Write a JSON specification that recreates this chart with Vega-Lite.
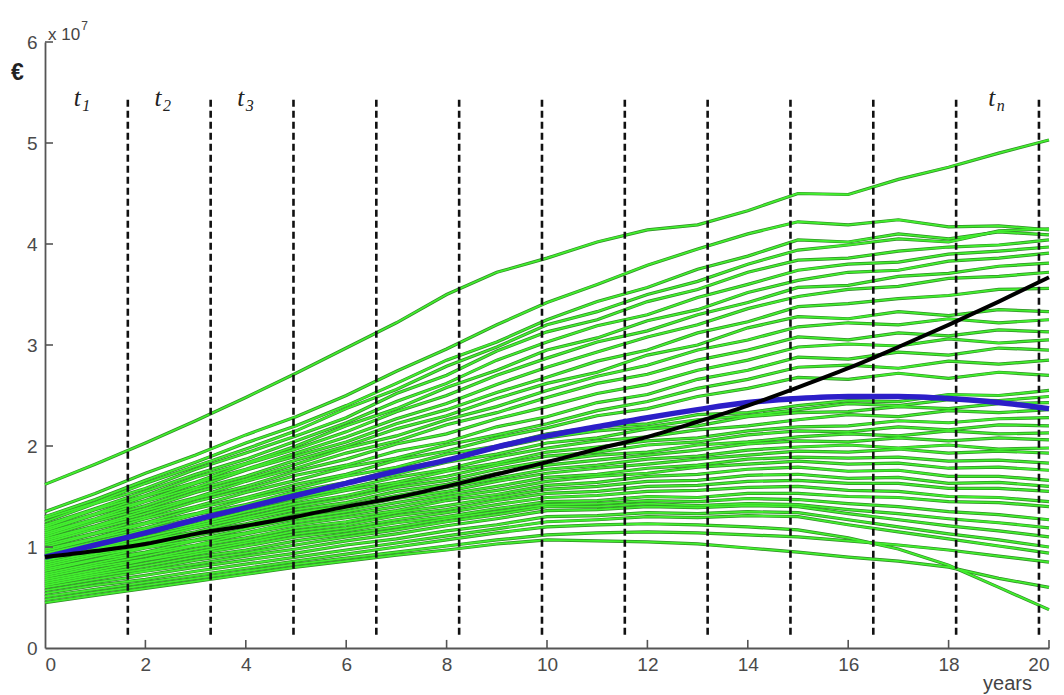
{
"$schema":"https://vega.github.io/schema/vega-lite/v6.json",
"width":1004,"height":606,
"autosize":{"type":"none"},
"padding":{"left":45,"top":42,"right":15,"bottom":47},
"background":"white",
"config":{"view":{"stroke":null},"axis":{"grid":false,"ticks":false,"labelFont":"Liberation Sans","labelFontSize":19,"labelColor":"#4a4a4a","domainColor":"#555555","domainWidth":1.8,"titleFont":"Liberation Sans","titleColor":"#444444","titleFontWeight":"normal"}},
"datasets":{
"g":[
{"p":1,"x":0,"y":1.62},{"p":1,"x":1,"y":1.82},{"p":1,"x":2,"y":2.03},{"p":1,"x":3,"y":2.25},{"p":1,"x":4,"y":2.48},{"p":1,"x":5,"y":2.72},{"p":1,"x":6,"y":2.97},{"p":1,"x":7,"y":3.22},{"p":1,"x":8,"y":3.50},{"p":1,"x":9,"y":3.72},{"p":1,"x":10,"y":3.86},{"p":1,"x":11,"y":4.02},{"p":1,"x":12,"y":4.14},{"p":1,"x":13,"y":4.19},{"p":1,"x":14,"y":4.33},{"p":1,"x":15,"y":4.50},{"p":1,"x":16,"y":4.49},{"p":1,"x":17,"y":4.64},{"p":1,"x":18,"y":4.76},{"p":1,"x":19,"y":4.90},{"p":1,"x":20,"y":5.03},
{"p":2,"x":0,"y":1.35},{"p":2,"x":1,"y":1.53},{"p":2,"x":2,"y":1.73},{"p":2,"x":3,"y":1.91},{"p":2,"x":4,"y":2.11},{"p":2,"x":5,"y":2.29},{"p":2,"x":6,"y":2.50},{"p":2,"x":7,"y":2.74},{"p":2,"x":8,"y":2.96},{"p":2,"x":9,"y":3.20},{"p":2,"x":10,"y":3.42},{"p":2,"x":11,"y":3.60},{"p":2,"x":12,"y":3.79},{"p":2,"x":13,"y":3.95},{"p":2,"x":14,"y":4.10},{"p":2,"x":15,"y":4.22},{"p":2,"x":16,"y":4.19},{"p":2,"x":17,"y":4.24},{"p":2,"x":18,"y":4.17},{"p":2,"x":19,"y":4.18},{"p":2,"x":20,"y":4.14},
{"p":3,"x":0,"y":1.30},{"p":3,"x":1,"y":1.47},{"p":3,"x":2,"y":1.66},{"p":3,"x":3,"y":1.84},{"p":3,"x":4,"y":2.03},{"p":3,"x":5,"y":2.20},{"p":3,"x":6,"y":2.40},{"p":3,"x":7,"y":2.62},{"p":3,"x":8,"y":2.85},{"p":3,"x":9,"y":3.03},{"p":3,"x":10,"y":3.25},{"p":3,"x":11,"y":3.43},{"p":3,"x":12,"y":3.57},{"p":3,"x":13,"y":3.75},{"p":3,"x":14,"y":3.88},{"p":3,"x":15,"y":4.04},{"p":3,"x":16,"y":4.02},{"p":3,"x":17,"y":4.10},{"p":3,"x":18,"y":4.05},{"p":3,"x":19,"y":4.12},{"p":3,"x":20,"y":4.09},
{"p":4,"x":0,"y":1.28},{"p":4,"x":1,"y":1.44},{"p":4,"x":2,"y":1.63},{"p":4,"x":3,"y":1.80},{"p":4,"x":4,"y":1.97},{"p":4,"x":5,"y":2.15},{"p":4,"x":6,"y":2.37},{"p":4,"x":7,"y":2.56},{"p":4,"x":8,"y":2.79},{"p":4,"x":9,"y":2.98},{"p":4,"x":10,"y":3.20},{"p":4,"x":11,"y":3.33},{"p":4,"x":12,"y":3.50},{"p":4,"x":13,"y":3.63},{"p":4,"x":14,"y":3.80},{"p":4,"x":15,"y":3.94},{"p":4,"x":16,"y":3.99},{"p":4,"x":17,"y":4.05},{"p":4,"x":18,"y":4.02},{"p":4,"x":19,"y":4.13},{"p":4,"x":20,"y":4.15},
{"p":5,"x":0,"y":1.25},{"p":5,"x":1,"y":1.43},{"p":5,"x":2,"y":1.58},{"p":5,"x":3,"y":1.77},{"p":5,"x":4,"y":1.93},{"p":5,"x":5,"y":2.10},{"p":5,"x":6,"y":2.28},{"p":5,"x":7,"y":2.52},{"p":5,"x":8,"y":2.70},{"p":5,"x":9,"y":2.94},{"p":5,"x":10,"y":3.13},{"p":5,"x":11,"y":3.25},{"p":5,"x":12,"y":3.43},{"p":5,"x":13,"y":3.55},{"p":5,"x":14,"y":3.72},{"p":5,"x":15,"y":3.84},{"p":5,"x":16,"y":3.86},{"p":5,"x":17,"y":3.93},{"p":5,"x":18,"y":3.97},{"p":5,"x":19,"y":3.99},{"p":5,"x":20,"y":4.04},
{"p":6,"x":0,"y":1.22},{"p":6,"x":1,"y":1.38},{"p":6,"x":2,"y":1.55},{"p":6,"x":3,"y":1.72},{"p":6,"x":4,"y":1.87},{"p":6,"x":5,"y":2.05},{"p":6,"x":6,"y":2.23},{"p":6,"x":7,"y":2.44},{"p":6,"x":8,"y":2.62},{"p":6,"x":9,"y":2.85},{"p":6,"x":10,"y":3.03},{"p":6,"x":11,"y":3.19},{"p":6,"x":12,"y":3.30},{"p":6,"x":13,"y":3.47},{"p":6,"x":14,"y":3.60},{"p":6,"x":15,"y":3.74},{"p":6,"x":16,"y":3.80},{"p":6,"x":17,"y":3.82},{"p":6,"x":18,"y":3.90},{"p":6,"x":19,"y":3.93},{"p":6,"x":20,"y":3.97},
{"p":7,"x":0,"y":1.20},{"p":7,"x":1,"y":1.37},{"p":7,"x":2,"y":1.51},{"p":7,"x":3,"y":1.69},{"p":7,"x":4,"y":1.83},{"p":7,"x":5,"y":2.00},{"p":7,"x":6,"y":2.20},{"p":7,"x":7,"y":2.37},{"p":7,"x":8,"y":2.58},{"p":7,"x":9,"y":2.75},{"p":7,"x":10,"y":2.95},{"p":7,"x":11,"y":3.07},{"p":7,"x":12,"y":3.24},{"p":7,"x":13,"y":3.35},{"p":7,"x":14,"y":3.52},{"p":7,"x":15,"y":3.64},{"p":7,"x":16,"y":3.72},{"p":7,"x":17,"y":3.74},{"p":7,"x":18,"y":3.83},{"p":7,"x":19,"y":3.86},{"p":7,"x":20,"y":3.91},
{"p":8,"x":0,"y":1.18},{"p":8,"x":1,"y":1.33},{"p":8,"x":2,"y":1.50},{"p":8,"x":3,"y":1.64},{"p":8,"x":4,"y":1.82},{"p":8,"x":5,"y":1.97},{"p":8,"x":6,"y":2.14},{"p":8,"x":7,"y":2.34},{"p":8,"x":8,"y":2.50},{"p":8,"x":9,"y":2.70},{"p":8,"x":10,"y":2.87},{"p":8,"x":11,"y":3.03},{"p":8,"x":12,"y":3.14},{"p":8,"x":13,"y":3.30},{"p":8,"x":14,"y":3.42},{"p":8,"x":15,"y":3.57},{"p":8,"x":16,"y":3.59},{"p":8,"x":17,"y":3.68},{"p":8,"x":18,"y":3.71},{"p":8,"x":19,"y":3.78},{"p":8,"x":20,"y":3.81},
{"p":9,"x":0,"y":1.16},{"p":9,"x":1,"y":1.32},{"p":9,"x":2,"y":1.46},{"p":9,"x":3,"y":1.63},{"p":9,"x":4,"y":1.77},{"p":9,"x":5,"y":1.93},{"p":9,"x":6,"y":2.09},{"p":9,"x":7,"y":2.27},{"p":9,"x":8,"y":2.42},{"p":9,"x":9,"y":2.61},{"p":9,"x":10,"y":2.78},{"p":9,"x":11,"y":2.93},{"p":9,"x":12,"y":3.08},{"p":9,"x":13,"y":3.20},{"p":9,"x":14,"y":3.36},{"p":9,"x":15,"y":3.48},{"p":9,"x":16,"y":3.55},{"p":9,"x":17,"y":3.58},{"p":9,"x":18,"y":3.66},{"p":9,"x":19,"y":3.68},{"p":9,"x":20,"y":3.72},
{"p":10,"x":0,"y":1.14},{"p":10,"x":1,"y":1.28},{"p":10,"x":2,"y":1.45},{"p":10,"x":3,"y":1.59},{"p":10,"x":4,"y":1.76},{"p":10,"x":5,"y":1.90},{"p":10,"x":6,"y":2.04},{"p":10,"x":7,"y":2.22},{"p":10,"x":8,"y":2.36},{"p":10,"x":9,"y":2.53},{"p":10,"x":10,"y":2.68},{"p":10,"x":11,"y":2.84},{"p":10,"x":12,"y":2.95},{"p":10,"x":13,"y":3.12},{"p":10,"x":14,"y":3.23},{"p":10,"x":15,"y":3.38},{"p":10,"x":16,"y":3.41},{"p":10,"x":17,"y":3.46},{"p":10,"x":18,"y":3.49},{"p":10,"x":19,"y":3.55},{"p":10,"x":20,"y":3.56},
{"p":11,"x":0,"y":1.12},{"p":11,"x":1,"y":1.27},{"p":11,"x":2,"y":1.41},{"p":11,"x":3,"y":1.57},{"p":11,"x":4,"y":1.70},{"p":11,"x":5,"y":1.86},{"p":11,"x":6,"y":2.00},{"p":11,"x":7,"y":2.17},{"p":11,"x":8,"y":2.30},{"p":11,"x":9,"y":2.47},{"p":11,"x":10,"y":2.62},{"p":11,"x":11,"y":2.73},{"p":11,"x":12,"y":2.90},{"p":11,"x":13,"y":3.00},{"p":11,"x":14,"y":3.17},{"p":11,"x":15,"y":3.28},{"p":11,"x":16,"y":3.26},{"p":11,"x":17,"y":3.33},{"p":11,"x":18,"y":3.29},{"p":11,"x":19,"y":3.35},{"p":11,"x":20,"y":3.33},
{"p":12,"x":0,"y":1.10},{"p":12,"x":1,"y":1.25},{"p":12,"x":2,"y":1.38},{"p":12,"x":3,"y":1.54},{"p":12,"x":4,"y":1.67},{"p":12,"x":5,"y":1.82},{"p":12,"x":6,"y":1.98},{"p":12,"x":7,"y":2.10},{"p":12,"x":8,"y":2.26},{"p":12,"x":9,"y":2.39},{"p":12,"x":10,"y":2.55},{"p":12,"x":11,"y":2.69},{"p":12,"x":12,"y":2.80},{"p":12,"x":13,"y":2.95},{"p":12,"x":14,"y":3.05},{"p":12,"x":15,"y":3.18},{"p":12,"x":16,"y":3.22},{"p":12,"x":17,"y":3.20},{"p":12,"x":18,"y":3.26},{"p":12,"x":19,"y":3.22},{"p":12,"x":20,"y":3.25},
{"p":13,"x":0,"y":1.08},{"p":13,"x":1,"y":1.21},{"p":13,"x":2,"y":1.36},{"p":13,"x":3,"y":1.49},{"p":13,"x":4,"y":1.65},{"p":13,"x":5,"y":1.78},{"p":13,"x":6,"y":1.93},{"p":13,"x":7,"y":2.05},{"p":13,"x":8,"y":2.21},{"p":13,"x":9,"y":2.33},{"p":13,"x":10,"y":2.48},{"p":13,"x":11,"y":2.62},{"p":13,"x":12,"y":2.71},{"p":13,"x":13,"y":2.85},{"p":13,"x":14,"y":2.95},{"p":13,"x":15,"y":3.08},{"p":13,"x":16,"y":3.05},{"p":13,"x":17,"y":3.12},{"p":13,"x":18,"y":3.09},{"p":13,"x":19,"y":3.15},{"p":13,"x":20,"y":3.13},
{"p":14,"x":0,"y":1.06},{"p":14,"x":1,"y":1.20},{"p":14,"x":2,"y":1.33},{"p":14,"x":3,"y":1.48},{"p":14,"x":4,"y":1.60},{"p":14,"x":5,"y":1.75},{"p":14,"x":6,"y":1.87},{"p":14,"x":7,"y":2.02},{"p":14,"x":8,"y":2.12},{"p":14,"x":9,"y":2.27},{"p":14,"x":10,"y":2.39},{"p":14,"x":11,"y":2.52},{"p":14,"x":12,"y":2.61},{"p":14,"x":13,"y":2.75},{"p":14,"x":14,"y":2.85},{"p":14,"x":15,"y":2.98},{"p":14,"x":16,"y":3.01},{"p":14,"x":17,"y":2.99},{"p":14,"x":18,"y":3.06},{"p":14,"x":19,"y":3.02},{"p":14,"x":20,"y":3.05},
{"p":15,"x":0,"y":1.04},{"p":15,"x":1,"y":1.18},{"p":15,"x":2,"y":1.30},{"p":15,"x":3,"y":1.45},{"p":15,"x":4,"y":1.57},{"p":15,"x":5,"y":1.71},{"p":15,"x":6,"y":1.81},{"p":15,"x":7,"y":1.95},{"p":15,"x":8,"y":2.04},{"p":15,"x":9,"y":2.19},{"p":15,"x":10,"y":2.29},{"p":15,"x":11,"y":2.43},{"p":15,"x":12,"y":2.51},{"p":15,"x":13,"y":2.66},{"p":15,"x":14,"y":2.75},{"p":15,"x":15,"y":2.88},{"p":15,"x":16,"y":2.86},{"p":15,"x":17,"y":2.93},{"p":15,"x":18,"y":2.90},{"p":15,"x":19,"y":2.97},{"p":15,"x":20,"y":2.95},
{"p":16,"x":0,"y":1.02},{"p":16,"x":1,"y":1.14},{"p":16,"x":2,"y":1.28},{"p":16,"x":3,"y":1.40},{"p":16,"x":4,"y":1.54},{"p":16,"x":5,"y":1.66},{"p":16,"x":6,"y":1.79},{"p":16,"x":7,"y":1.88},{"p":16,"x":8,"y":2.01},{"p":16,"x":9,"y":2.11},{"p":16,"x":10,"y":2.22},{"p":16,"x":11,"y":2.35},{"p":16,"x":12,"y":2.44},{"p":16,"x":13,"y":2.57},{"p":16,"x":14,"y":2.66},{"p":16,"x":15,"y":2.78},{"p":16,"x":16,"y":2.80},{"p":16,"x":17,"y":2.77},{"p":16,"x":18,"y":2.84},{"p":16,"x":19,"y":2.81},{"p":16,"x":20,"y":2.85},
{"p":17,"x":0,"y":1.00},{"p":17,"x":1,"y":1.13},{"p":17,"x":2,"y":1.24},{"p":17,"x":3,"y":1.38},{"p":17,"x":4,"y":1.49},{"p":17,"x":5,"y":1.62},{"p":17,"x":6,"y":1.72},{"p":17,"x":7,"y":1.86},{"p":17,"x":8,"y":1.95},{"p":17,"x":9,"y":2.08},{"p":17,"x":10,"y":2.18},{"p":17,"x":11,"y":2.30},{"p":17,"x":12,"y":2.37},{"p":17,"x":13,"y":2.49},{"p":17,"x":14,"y":2.57},{"p":17,"x":15,"y":2.68},{"p":17,"x":16,"y":2.66},{"p":17,"x":17,"y":2.72},{"p":17,"x":18,"y":2.67},{"p":17,"x":19,"y":2.73},{"p":17,"x":20,"y":2.70},
{"p":18,"x":0,"y":0.98},{"p":18,"x":1,"y":1.09},{"p":18,"x":2,"y":1.23},{"p":18,"x":3,"y":1.33},{"p":18,"x":4,"y":1.47},{"p":18,"x":5,"y":1.58},{"p":18,"x":6,"y":1.70},{"p":18,"x":7,"y":1.79},{"p":18,"x":8,"y":1.92},{"p":18,"x":9,"y":2.00},{"p":18,"x":10,"y":2.12},{"p":18,"x":11,"y":2.19},{"p":18,"x":12,"y":2.22},{"p":18,"x":13,"y":2.31},{"p":18,"x":14,"y":2.33},{"p":18,"x":15,"y":2.40},{"p":18,"x":16,"y":2.45},{"p":18,"x":17,"y":2.44},{"p":18,"x":18,"y":2.51},{"p":18,"x":19,"y":2.50},{"p":18,"x":20,"y":2.55},
{"p":19,"x":0,"y":0.96},{"p":19,"x":1,"y":1.08},{"p":19,"x":2,"y":1.19},{"p":19,"x":3,"y":1.32},{"p":19,"x":4,"y":1.42},{"p":19,"x":5,"y":1.55},{"p":19,"x":6,"y":1.64},{"p":19,"x":7,"y":1.77},{"p":19,"x":8,"y":1.86},{"p":19,"x":9,"y":1.98},{"p":19,"x":10,"y":2.08},{"p":19,"x":11,"y":2.15},{"p":19,"x":12,"y":2.19},{"p":19,"x":13,"y":2.26},{"p":19,"x":14,"y":2.30},{"p":19,"x":15,"y":2.36},{"p":19,"x":16,"y":2.42},{"p":19,"x":17,"y":2.40},{"p":19,"x":18,"y":2.46},{"p":19,"x":19,"y":2.45},{"p":19,"x":20,"y":2.49},
{"p":20,"x":0,"y":0.94},{"p":20,"x":1,"y":1.05},{"p":20,"x":2,"y":1.17},{"p":20,"x":3,"y":1.28},{"p":20,"x":4,"y":1.41},{"p":20,"x":5,"y":1.52},{"p":20,"x":6,"y":1.63},{"p":20,"x":7,"y":1.72},{"p":20,"x":8,"y":1.84},{"p":20,"x":9,"y":1.92},{"p":20,"x":10,"y":2.03},{"p":20,"x":11,"y":2.08},{"p":20,"x":12,"y":2.17},{"p":20,"x":13,"y":2.20},{"p":20,"x":14,"y":2.29},{"p":20,"x":15,"y":2.33},{"p":20,"x":16,"y":2.34},{"p":20,"x":17,"y":2.39},{"p":20,"x":18,"y":2.37},{"p":20,"x":19,"y":2.42},{"p":20,"x":20,"y":2.43},
{"p":21,"x":0,"y":0.92},{"p":21,"x":1,"y":1.04},{"p":21,"x":2,"y":1.14},{"p":21,"x":3,"y":1.27},{"p":21,"x":4,"y":1.37},{"p":21,"x":5,"y":1.49},{"p":21,"x":6,"y":1.58},{"p":21,"x":7,"y":1.69},{"p":21,"x":8,"y":1.77},{"p":21,"x":9,"y":1.89},{"p":21,"x":10,"y":1.98},{"p":21,"x":11,"y":2.05},{"p":21,"x":12,"y":2.09},{"p":21,"x":13,"y":2.16},{"p":21,"x":14,"y":2.20},{"p":21,"x":15,"y":2.26},{"p":21,"x":16,"y":2.31},{"p":21,"x":17,"y":2.29},{"p":21,"x":18,"y":2.35},{"p":21,"x":19,"y":2.33},{"p":21,"x":20,"y":2.36},
{"p":22,"x":0,"y":0.90},{"p":22,"x":1,"y":1.01},{"p":22,"x":2,"y":1.13},{"p":22,"x":3,"y":1.23},{"p":22,"x":4,"y":1.35},{"p":22,"x":5,"y":1.46},{"p":22,"x":6,"y":1.56},{"p":22,"x":7,"y":1.64},{"p":22,"x":8,"y":1.75},{"p":22,"x":9,"y":1.83},{"p":22,"x":10,"y":1.94},{"p":22,"x":11,"y":1.99},{"p":22,"x":12,"y":2.05},{"p":22,"x":13,"y":2.08},{"p":22,"x":14,"y":2.15},{"p":22,"x":15,"y":2.19},{"p":22,"x":16,"y":2.20},{"p":22,"x":17,"y":2.25},{"p":22,"x":18,"y":2.23},{"p":22,"x":19,"y":2.27},{"p":22,"x":20,"y":2.28},
{"p":23,"x":0,"y":0.88},{"p":23,"x":1,"y":0.99},{"p":23,"x":2,"y":1.10},{"p":23,"x":3,"y":1.21},{"p":23,"x":4,"y":1.32},{"p":23,"x":5,"y":1.43},{"p":23,"x":6,"y":1.51},{"p":23,"x":7,"y":1.62},{"p":23,"x":8,"y":1.70},{"p":23,"x":9,"y":1.81},{"p":23,"x":10,"y":1.90},{"p":23,"x":11,"y":1.94},{"p":23,"x":12,"y":2.01},{"p":23,"x":13,"y":2.04},{"p":23,"x":14,"y":2.11},{"p":23,"x":15,"y":2.15},{"p":23,"x":16,"y":2.14},{"p":23,"x":17,"y":2.19},{"p":23,"x":18,"y":2.16},{"p":23,"x":19,"y":2.21},{"p":23,"x":20,"y":2.20},
{"p":24,"x":0,"y":0.86},{"p":24,"x":1,"y":0.98},{"p":24,"x":2,"y":1.07},{"p":24,"x":3,"y":1.19},{"p":24,"x":4,"y":1.29},{"p":24,"x":5,"y":1.40},{"p":24,"x":6,"y":1.48},{"p":24,"x":7,"y":1.59},{"p":24,"x":8,"y":1.66},{"p":24,"x":9,"y":1.77},{"p":24,"x":10,"y":1.85},{"p":24,"x":11,"y":1.91},{"p":24,"x":12,"y":1.94},{"p":24,"x":13,"y":2.01},{"p":24,"x":14,"y":2.04},{"p":24,"x":15,"y":2.09},{"p":24,"x":16,"y":2.12},{"p":24,"x":17,"y":2.10},{"p":24,"x":18,"y":2.15},{"p":24,"x":19,"y":2.12},{"p":24,"x":20,"y":2.13},
{"p":25,"x":0,"y":0.84},{"p":25,"x":1,"y":0.95},{"p":25,"x":2,"y":1.06},{"p":25,"x":3,"y":1.15},{"p":25,"x":4,"y":1.27},{"p":25,"x":5,"y":1.37},{"p":25,"x":6,"y":1.44},{"p":25,"x":7,"y":1.55},{"p":25,"x":8,"y":1.62},{"p":25,"x":9,"y":1.73},{"p":25,"x":10,"y":1.81},{"p":25,"x":11,"y":1.86},{"p":25,"x":12,"y":1.91},{"p":25,"x":13,"y":1.96},{"p":25,"x":14,"y":2.02},{"p":25,"x":15,"y":2.05},{"p":25,"x":16,"y":2.04},{"p":25,"x":17,"y":2.08},{"p":25,"x":18,"y":2.05},{"p":25,"x":19,"y":2.08},{"p":25,"x":20,"y":2.06},
{"p":26,"x":0,"y":0.82},{"p":26,"x":1,"y":0.93},{"p":26,"x":2,"y":1.02},{"p":26,"x":3,"y":1.14},{"p":26,"x":4,"y":1.23},{"p":26,"x":5,"y":1.34},{"p":26,"x":6,"y":1.41},{"p":26,"x":7,"y":1.51},{"p":26,"x":8,"y":1.59},{"p":26,"x":9,"y":1.68},{"p":26,"x":10,"y":1.77},{"p":26,"x":11,"y":1.81},{"p":26,"x":12,"y":1.87},{"p":26,"x":13,"y":1.90},{"p":26,"x":14,"y":1.96},{"p":26,"x":15,"y":1.99},{"p":26,"x":16,"y":2.01},{"p":26,"x":17,"y":1.98},{"p":26,"x":18,"y":2.01},{"p":26,"x":19,"y":1.97},{"p":26,"x":20,"y":1.98},
{"p":27,"x":0,"y":0.80},{"p":27,"x":1,"y":0.91},{"p":27,"x":2,"y":1.00},{"p":27,"x":3,"y":1.11},{"p":27,"x":4,"y":1.21},{"p":27,"x":5,"y":1.31},{"p":27,"x":6,"y":1.38},{"p":27,"x":7,"y":1.48},{"p":27,"x":8,"y":1.55},{"p":27,"x":9,"y":1.65},{"p":27,"x":10,"y":1.73},{"p":27,"x":11,"y":1.78},{"p":27,"x":12,"y":1.82},{"p":27,"x":13,"y":1.87},{"p":27,"x":14,"y":1.91},{"p":27,"x":15,"y":1.95},{"p":27,"x":16,"y":1.94},{"p":27,"x":17,"y":1.97},{"p":27,"x":18,"y":1.93},{"p":27,"x":19,"y":1.95},{"p":27,"x":20,"y":1.93},
{"p":28,"x":0,"y":0.78},{"p":28,"x":1,"y":0.88},{"p":28,"x":2,"y":0.99},{"p":28,"x":3,"y":1.07},{"p":28,"x":4,"y":1.18},{"p":28,"x":5,"y":1.28},{"p":28,"x":6,"y":1.35},{"p":28,"x":7,"y":1.44},{"p":28,"x":8,"y":1.52},{"p":28,"x":9,"y":1.60},{"p":28,"x":10,"y":1.69},{"p":28,"x":11,"y":1.72},{"p":28,"x":12,"y":1.78},{"p":28,"x":13,"y":1.81},{"p":28,"x":14,"y":1.87},{"p":28,"x":15,"y":1.89},{"p":28,"x":16,"y":1.88},{"p":28,"x":17,"y":1.89},{"p":28,"x":18,"y":1.85},{"p":28,"x":19,"y":1.86},{"p":28,"x":20,"y":1.83},
{"p":29,"x":0,"y":0.76},{"p":29,"x":1,"y":0.87},{"p":29,"x":2,"y":0.95},{"p":29,"x":3,"y":1.06},{"p":29,"x":4,"y":1.14},{"p":29,"x":5,"y":1.25},{"p":29,"x":6,"y":1.32},{"p":29,"x":7,"y":1.40},{"p":29,"x":8,"y":1.49},{"p":29,"x":9,"y":1.56},{"p":29,"x":10,"y":1.65},{"p":29,"x":11,"y":1.70},{"p":29,"x":12,"y":1.73},{"p":29,"x":13,"y":1.79},{"p":29,"x":14,"y":1.82},{"p":29,"x":15,"y":1.85},{"p":29,"x":16,"y":1.82},{"p":29,"x":17,"y":1.83},{"p":29,"x":18,"y":1.78},{"p":29,"x":19,"y":1.79},{"p":29,"x":20,"y":1.76},
{"p":30,"x":0,"y":0.74},{"p":30,"x":1,"y":0.84},{"p":30,"x":2,"y":0.94},{"p":30,"x":3,"y":1.02},{"p":30,"x":4,"y":1.13},{"p":30,"x":5,"y":1.22},{"p":30,"x":6,"y":1.29},{"p":30,"x":7,"y":1.36},{"p":30,"x":8,"y":1.46},{"p":30,"x":9,"y":1.52},{"p":30,"x":10,"y":1.61},{"p":30,"x":11,"y":1.64},{"p":30,"x":12,"y":1.70},{"p":30,"x":13,"y":1.72},{"p":30,"x":14,"y":1.77},{"p":30,"x":15,"y":1.79},{"p":30,"x":16,"y":1.75},{"p":30,"x":17,"y":1.76},{"p":30,"x":18,"y":1.70},{"p":30,"x":19,"y":1.70},{"p":30,"x":20,"y":1.66},
{"p":31,"x":0,"y":0.72},{"p":31,"x":1,"y":0.82},{"p":31,"x":2,"y":0.91},{"p":31,"x":3,"y":1.01},{"p":31,"x":4,"y":1.09},{"p":31,"x":5,"y":1.19},{"p":31,"x":6,"y":1.25},{"p":31,"x":7,"y":1.34},{"p":31,"x":8,"y":1.41},{"p":31,"x":9,"y":1.49},{"p":31,"x":10,"y":1.57},{"p":31,"x":11,"y":1.60},{"p":31,"x":12,"y":1.65},{"p":31,"x":13,"y":1.66},{"p":31,"x":14,"y":1.71},{"p":31,"x":15,"y":1.72},{"p":31,"x":16,"y":1.68},{"p":31,"x":17,"y":1.69},{"p":31,"x":18,"y":1.63},{"p":31,"x":19,"y":1.64},{"p":31,"x":20,"y":1.60},
{"p":32,"x":0,"y":0.70},{"p":32,"x":1,"y":0.80},{"p":32,"x":2,"y":0.88},{"p":32,"x":3,"y":0.98},{"p":32,"x":4,"y":1.06},{"p":32,"x":5,"y":1.16},{"p":32,"x":6,"y":1.22},{"p":32,"x":7,"y":1.31},{"p":32,"x":8,"y":1.37},{"p":32,"x":9,"y":1.46},{"p":32,"x":10,"y":1.53},{"p":32,"x":11,"y":1.55},{"p":32,"x":12,"y":1.60},{"p":32,"x":13,"y":1.61},{"p":32,"x":14,"y":1.65},{"p":32,"x":15,"y":1.66},{"p":32,"x":16,"y":1.63},{"p":32,"x":17,"y":1.63},{"p":32,"x":18,"y":1.58},{"p":32,"x":19,"y":1.58},{"p":32,"x":20,"y":1.55},
{"p":33,"x":0,"y":0.68},{"p":33,"x":1,"y":0.77},{"p":33,"x":2,"y":0.87},{"p":33,"x":3,"y":0.95},{"p":33,"x":4,"y":1.04},{"p":33,"x":5,"y":1.13},{"p":33,"x":6,"y":1.19},{"p":33,"x":7,"y":1.27},{"p":33,"x":8,"y":1.34},{"p":33,"x":9,"y":1.42},{"p":33,"x":10,"y":1.49},{"p":33,"x":11,"y":1.51},{"p":33,"x":12,"y":1.55},{"p":33,"x":13,"y":1.56},{"p":33,"x":14,"y":1.59},{"p":33,"x":15,"y":1.60},{"p":33,"x":16,"y":1.56},{"p":33,"x":17,"y":1.55},{"p":33,"x":18,"y":1.50},{"p":33,"x":19,"y":1.49},{"p":33,"x":20,"y":1.45},
{"p":34,"x":0,"y":0.66},{"p":34,"x":1,"y":0.75},{"p":34,"x":2,"y":0.84},{"p":34,"x":3,"y":0.93},{"p":34,"x":4,"y":1.01},{"p":34,"x":5,"y":1.10},{"p":34,"x":6,"y":1.16},{"p":34,"x":7,"y":1.24},{"p":34,"x":8,"y":1.30},{"p":34,"x":9,"y":1.38},{"p":34,"x":10,"y":1.45},{"p":34,"x":11,"y":1.46},{"p":34,"x":12,"y":1.50},{"p":34,"x":13,"y":1.49},{"p":34,"x":14,"y":1.53},{"p":34,"x":15,"y":1.53},{"p":34,"x":16,"y":1.50},{"p":34,"x":17,"y":1.49},{"p":34,"x":18,"y":1.45},{"p":34,"x":19,"y":1.44},{"p":34,"x":20,"y":1.40},
{"p":35,"x":0,"y":0.64},{"p":35,"x":1,"y":0.73},{"p":35,"x":2,"y":0.81},{"p":35,"x":3,"y":0.90},{"p":35,"x":4,"y":0.97},{"p":35,"x":5,"y":1.06},{"p":35,"x":6,"y":1.13},{"p":35,"x":7,"y":1.20},{"p":35,"x":8,"y":1.28},{"p":35,"x":9,"y":1.35},{"p":35,"x":10,"y":1.42},{"p":35,"x":11,"y":1.43},{"p":35,"x":12,"y":1.46},{"p":35,"x":13,"y":1.45},{"p":35,"x":14,"y":1.48},{"p":35,"x":15,"y":1.47},{"p":35,"x":16,"y":1.43},{"p":35,"x":17,"y":1.40},{"p":35,"x":18,"y":1.35},{"p":35,"x":19,"y":1.32},{"p":35,"x":20,"y":1.27},
{"p":36,"x":0,"y":0.62},{"p":36,"x":1,"y":0.71},{"p":36,"x":2,"y":0.78},{"p":36,"x":3,"y":0.87},{"p":36,"x":4,"y":0.94},{"p":36,"x":5,"y":1.02},{"p":36,"x":6,"y":1.10},{"p":36,"x":7,"y":1.17},{"p":36,"x":8,"y":1.25},{"p":36,"x":9,"y":1.32},{"p":36,"x":10,"y":1.40},{"p":36,"x":11,"y":1.40},{"p":36,"x":12,"y":1.43},{"p":36,"x":13,"y":1.41},{"p":36,"x":14,"y":1.43},{"p":36,"x":15,"y":1.42},{"p":36,"x":16,"y":1.37},{"p":36,"x":17,"y":1.33},{"p":36,"x":18,"y":1.28},{"p":36,"x":19,"y":1.24},{"p":36,"x":20,"y":1.19},
{"p":37,"x":0,"y":0.60},{"p":37,"x":1,"y":0.68},{"p":37,"x":2,"y":0.76},{"p":37,"x":3,"y":0.83},{"p":37,"x":4,"y":0.91},{"p":37,"x":5,"y":0.98},{"p":37,"x":6,"y":1.06},{"p":37,"x":7,"y":1.13},{"p":37,"x":8,"y":1.21},{"p":37,"x":9,"y":1.28},{"p":37,"x":10,"y":1.36},{"p":37,"x":11,"y":1.37},{"p":37,"x":12,"y":1.40},{"p":37,"x":13,"y":1.39},{"p":37,"x":14,"y":1.41},{"p":37,"x":15,"y":1.40},{"p":37,"x":16,"y":1.33},{"p":37,"x":17,"y":1.27},{"p":37,"x":18,"y":1.21},{"p":37,"x":19,"y":1.16},{"p":37,"x":20,"y":1.10},
{"p":38,"x":0,"y":0.57},{"p":38,"x":1,"y":0.65},{"p":38,"x":2,"y":0.72},{"p":38,"x":3,"y":0.80},{"p":38,"x":4,"y":0.87},{"p":38,"x":5,"y":0.94},{"p":38,"x":6,"y":1.02},{"p":38,"x":7,"y":1.08},{"p":38,"x":8,"y":1.16},{"p":38,"x":9,"y":1.22},{"p":38,"x":10,"y":1.30},{"p":38,"x":11,"y":1.31},{"p":38,"x":12,"y":1.34},{"p":38,"x":13,"y":1.33},{"p":38,"x":14,"y":1.35},{"p":38,"x":15,"y":1.34},{"p":38,"x":16,"y":1.27},{"p":38,"x":17,"y":1.20},{"p":38,"x":18,"y":1.13},{"p":38,"x":19,"y":1.07},{"p":38,"x":20,"y":1.00},
{"p":39,"x":0,"y":0.54},{"p":39,"x":1,"y":0.62},{"p":39,"x":2,"y":0.68},{"p":39,"x":3,"y":0.76},{"p":39,"x":4,"y":0.83},{"p":39,"x":5,"y":0.90},{"p":39,"x":6,"y":0.97},{"p":39,"x":7,"y":1.04},{"p":39,"x":8,"y":1.11},{"p":39,"x":9,"y":1.18},{"p":39,"x":10,"y":1.25},{"p":39,"x":11,"y":1.27},{"p":39,"x":12,"y":1.30},{"p":39,"x":13,"y":1.29},{"p":39,"x":14,"y":1.31},{"p":39,"x":15,"y":1.30},{"p":39,"x":16,"y":1.22},{"p":39,"x":17,"y":1.15},{"p":39,"x":18,"y":1.08},{"p":39,"x":19,"y":1.01},{"p":39,"x":20,"y":0.94},
{"p":40,"x":0,"y":0.51},{"p":40,"x":1,"y":0.58},{"p":40,"x":2,"y":0.65},{"p":40,"x":3,"y":0.72},{"p":40,"x":4,"y":0.79},{"p":40,"x":5,"y":0.86},{"p":40,"x":6,"y":0.93},{"p":40,"x":7,"y":1.00},{"p":40,"x":8,"y":1.07},{"p":40,"x":9,"y":1.14},{"p":40,"x":10,"y":1.20},{"p":40,"x":11,"y":1.22},{"p":40,"x":12,"y":1.23},{"p":40,"x":13,"y":1.22},{"p":40,"x":14,"y":1.20},{"p":40,"x":15,"y":1.17},{"p":40,"x":16,"y":1.09},{"p":40,"x":17,"y":0.98},{"p":40,"x":18,"y":0.82},{"p":40,"x":19,"y":0.60},{"p":40,"x":20,"y":0.38},
{"p":41,"x":0,"y":0.48},{"p":41,"x":1,"y":0.55},{"p":41,"x":2,"y":0.62},{"p":41,"x":3,"y":0.69},{"p":41,"x":4,"y":0.76},{"p":41,"x":5,"y":0.83},{"p":41,"x":6,"y":0.89},{"p":41,"x":7,"y":0.95},{"p":41,"x":8,"y":1.01},{"p":41,"x":9,"y":1.07},{"p":41,"x":10,"y":1.12},{"p":41,"x":11,"y":1.14},{"p":41,"x":12,"y":1.15},{"p":41,"x":13,"y":1.14},{"p":41,"x":14,"y":1.12},{"p":41,"x":15,"y":1.10},{"p":41,"x":16,"y":1.06},{"p":41,"x":17,"y":1.02},{"p":41,"x":18,"y":0.97},{"p":41,"x":19,"y":0.91},{"p":41,"x":20,"y":0.85},
{"p":42,"x":0,"y":0.45},{"p":42,"x":1,"y":0.52},{"p":42,"x":2,"y":0.59},{"p":42,"x":3,"y":0.66},{"p":42,"x":4,"y":0.73},{"p":42,"x":5,"y":0.80},{"p":42,"x":6,"y":0.86},{"p":42,"x":7,"y":0.92},{"p":42,"x":8,"y":0.97},{"p":42,"x":9,"y":1.03},{"p":42,"x":10,"y":1.07},{"p":42,"x":11,"y":1.06},{"p":42,"x":12,"y":1.05},{"p":42,"x":13,"y":1.03},{"p":42,"x":14,"y":0.99},{"p":42,"x":15,"y":0.95},{"p":42,"x":16,"y":0.90},{"p":42,"x":17,"y":0.86},{"p":42,"x":18,"y":0.80},{"p":42,"x":19,"y":0.69},{"p":42,"x":20,"y":0.60}
],
"m":[
{"s":"blue","x":0,"y":0.90},{"s":"blue","x":1,"y":1.02},{"s":"blue","x":2,"y":1.14},{"s":"blue","x":3,"y":1.27},{"s":"blue","x":4,"y":1.39},{"s":"blue","x":5,"y":1.51},{"s":"blue","x":6,"y":1.63},{"s":"blue","x":7,"y":1.75},{"s":"blue","x":8,"y":1.86},{"s":"blue","x":9,"y":1.99},{"s":"blue","x":10,"y":2.10},{"s":"blue","x":11,"y":2.19},{"s":"blue","x":12,"y":2.28},{"s":"blue","x":13,"y":2.36},{"s":"blue","x":14,"y":2.43},{"s":"blue","x":15,"y":2.47},{"s":"blue","x":16,"y":2.49},{"s":"blue","x":17,"y":2.49},{"s":"blue","x":18,"y":2.47},{"s":"blue","x":19,"y":2.43},{"s":"blue","x":20,"y":2.37},
{"s":"black","x":0,"y":0.90},{"s":"black","x":1,"y":0.96},{"s":"black","x":2,"y":1.03},{"s":"black","x":3,"y":1.13},{"s":"black","x":4,"y":1.21},{"s":"black","x":5,"y":1.30},{"s":"black","x":6,"y":1.40},{"s":"black","x":7,"y":1.49},{"s":"black","x":8,"y":1.60},{"s":"black","x":9,"y":1.72},{"s":"black","x":10,"y":1.84},{"s":"black","x":11,"y":1.97},{"s":"black","x":12,"y":2.09},{"s":"black","x":13,"y":2.24},{"s":"black","x":14,"y":2.40},{"s":"black","x":15,"y":2.58},{"s":"black","x":16,"y":2.77},{"s":"black","x":17,"y":2.98},{"s":"black","x":18,"y":3.20},{"s":"black","x":19,"y":3.43},{"s":"black","x":20,"y":3.67}
],
"v":[{"x":1.65},{"x":3.3},{"x":4.95},{"x":6.6},{"x":8.25},{"x":9.9},{"x":11.55},{"x":13.2},{"x":14.85},{"x":16.5},{"x":18.15},{"x":19.8}],
"xt":[{"x":2},{"x":4},{"x":6},{"x":8},{"x":10},{"x":12},{"x":14},{"x":16},{"x":18},{"x":20}],
"yt":[{"y":1},{"y":2},{"y":3},{"y":4},{"y":5},{"y":6}],
"t":[{"x":0.64,"n":"1"},{"x":2.25,"n":"2"},{"x":3.9,"n":"3"},{"x":18.86,"n":"n"}],
"one":[{"k":1}]
},
"layer":[
{"data":{"name":"g"},"mark":{"type":"line","color":"#2f8c25","strokeWidth":3.2},
 "encoding":{
  "x":{"field":"x","type":"quantitative","scale":{"domain":[0,20],"nice":false},
   "axis":{"values":[0,2,4,6,8,10,12,14,16,18,20],"format":"d","labelPadding":7,"title":"years","titleFontSize":20,"titleX":962,"titleY":25,"titleBaseline":"top","titleAlign":"center"}},
  "y":{"field":"y","type":"quantitative","scale":{"domain":[0,6],"nice":false},
   "axis":{"values":[0,1,2,3,4,5,6],"format":"d","labelPadding":8,"title":"€","titleAngle":0,"titleFontSize":23,"titleFontWeight":"bold","titleColor":"#222222","titleX":-28,"titleY":30,"titleAlign":"center","titleBaseline":"middle"}},
  "detail":{"field":"p","type":"nominal"}}},
{"data":{"name":"g"},"mark":{"type":"line","color":"#42ee2e","strokeWidth":1.8},
 "encoding":{"x":{"field":"x","type":"quantitative"},"y":{"field":"y","type":"quantitative"},"detail":{"field":"p","type":"nominal"}}},
{"data":{"name":"v"},"mark":{"type":"rule","color":"#111111","strokeWidth":2.6,"strokeDash":[7,4]},
 "encoding":{"x":{"field":"x","type":"quantitative"},"y":{"datum":0.13},"y2":{"datum":5.43}}},
{"data":{"name":"m"},"transform":[{"filter":"datum.s === 'blue'"}],"mark":{"type":"line","color":"#2c1ec8","strokeWidth":5.5,"interpolate":"monotone"},
 "encoding":{"x":{"field":"x","type":"quantitative"},"y":{"field":"y","type":"quantitative"}}},
{"data":{"name":"m"},"transform":[{"filter":"datum.s === 'black'"}],"mark":{"type":"line","color":"#000000","strokeWidth":4,"interpolate":"monotone"},
 "encoding":{"x":{"field":"x","type":"quantitative"},"y":{"field":"y","type":"quantitative"}}},
{"data":{"name":"xt"},"mark":{"type":"rule","color":"#555555","strokeWidth":1.6},
 "encoding":{"x":{"field":"x","type":"quantitative"},"y":{"datum":0},"y2":{"datum":0.08}}},
{"data":{"name":"yt"},"mark":{"type":"rule","color":"#555555","strokeWidth":1.6},
 "encoding":{"y":{"field":"y","type":"quantitative"},"x":{"datum":0},"x2":{"datum":0.16}}},
{"data":{"name":"t"},"mark":{"type":"text","text":"t","font":"Liberation Serif","fontStyle":"italic","fontSize":25,"color":"#222222","align":"center","baseline":"middle"},
 "encoding":{"x":{"field":"x","type":"quantitative"},"y":{"datum":5.45}}},
{"data":{"name":"t"},"mark":{"type":"text","font":"Liberation Serif","fontStyle":"italic","fontSize":16,"color":"#222222","align":"left","baseline":"middle","dx":5,"dy":8},
 "encoding":{"x":{"field":"x","type":"quantitative"},"y":{"datum":5.45},"text":{"field":"n"}}},
{"data":{"name":"one"},"mark":{"type":"text","text":"x 10","font":"Liberation Sans","fontSize":17,"color":"#444444","align":"left","baseline":"middle","clip":false},
 "encoding":{"x":{"datum":0.06},"y":{"datum":6.07}}},
{"data":{"name":"one"},"mark":{"type":"text","text":"7","font":"Liberation Sans","fontSize":12,"color":"#444444","align":"left","baseline":"middle","clip":false},
 "encoding":{"x":{"datum":0.72},"y":{"datum":6.16}}}
]
}
